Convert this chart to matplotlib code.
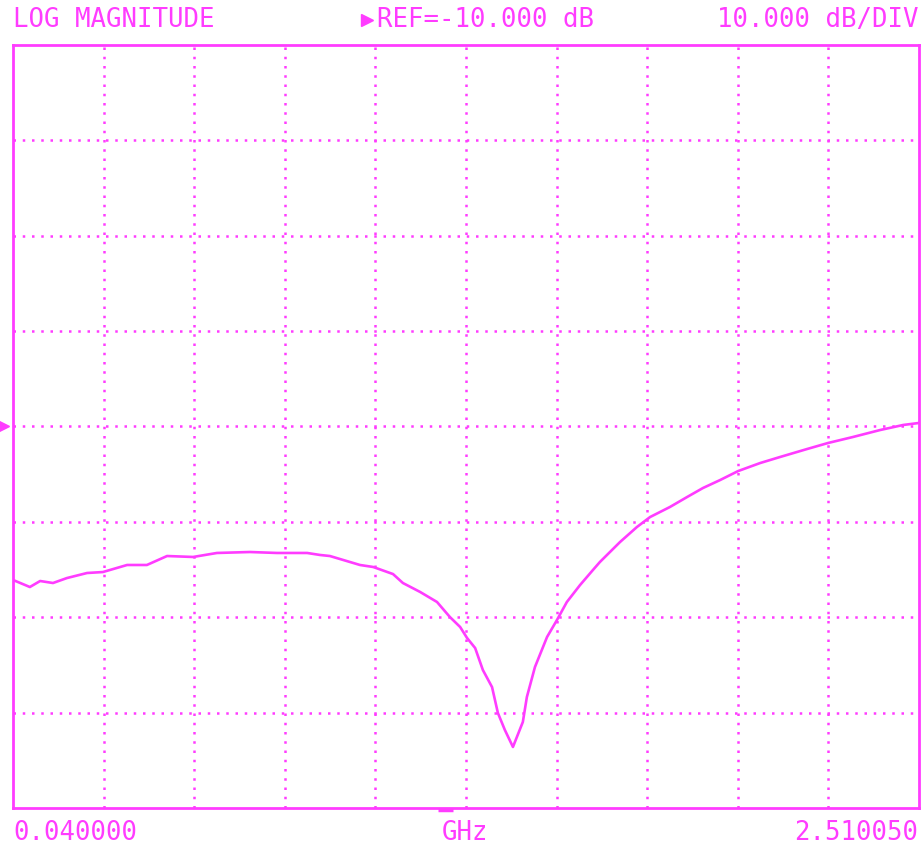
import numpy as np
import matplotlib
matplotlib.use("Agg")
import matplotlib.pyplot as plt
from matplotlib.lines import Line2D

# analyzer trace (GHz, dB)
freq_ghz = [0.040, 0.086, 0.114, 0.149, 0.187, 0.242, 0.285, 0.351, 0.405,
            0.460, 0.531, 0.596, 0.686, 0.760, 0.842, 0.877, 0.904, 0.986,
            1.022, 1.076, 1.103, 1.150, 1.196, 1.231, 1.259, 1.278, 1.300,
            1.321, 1.346, 1.362, 1.381, 1.403, 1.430, 1.441, 1.463, 1.496,
            1.523, 1.550, 1.586, 1.621, 1.640, 1.695, 1.741, 1.777, 1.831,
            1.878, 1.921, 1.968, 2.017, 2.077, 2.131, 2.205, 2.262, 2.330,
            2.404, 2.467, 2.510]
mag_db = [-26.09, -26.83, -26.20, -26.41, -25.89, -25.36, -25.26, -24.52,
          -24.52, -23.58, -23.68, -23.26, -23.16, -23.26, -23.26, -23.47,
          -23.58, -24.52, -24.73, -25.47, -26.41, -27.35, -28.40, -29.97,
          -31.02, -32.18, -33.23, -35.53, -37.32, -40.04, -41.82, -43.60,
          -40.98, -38.36, -35.22, -32.07, -30.29, -28.40, -26.62, -25.05,
          -24.21, -22.11, -20.54, -19.49, -18.44, -17.39, -16.45, -15.61,
          -14.67, -13.83, -13.20, -12.36, -11.73, -11.10, -10.37, -9.84,
          -9.63]

f_start = 0.040000
f_stop = 2.510050
ref_db = -10.0
db_per_div = 10.0
x_divs = 10
y_divs = 8

pink = '#ff3cff'
mono = ['DejaVu Sans Mono']

fig = plt.figure(figsize=(9.22, 8.55), dpi=100)
fig.patch.set_facecolor('white')
ax = fig.add_axes([13 / 922, 47 / 855, 906 / 922, 763 / 855])

y_top = ref_db + db_per_div * y_divs / 2
y_bot = ref_db - db_per_div * y_divs / 2
ax.set_xlim(f_start, f_stop)
ax.set_ylim(y_bot, y_top)

# dotted graticule
step = (f_stop - f_start) / x_divs
dots = (0, (1, 2.7))
for i in range(1, x_divs):
    ax.axvline(f_start + i * step, color=pink, lw=1.8,
               linestyle=dots, dash_capstyle='butt', zorder=1)
for i in range(1, y_divs):
    ax.axhline(y_bot + i * db_per_div, color=pink, lw=1.8,
               linestyle=dots, dash_capstyle='butt', zorder=1)

ax.plot(freq_ghz, mag_db, color=pink, lw=1.9, zorder=3)

ax.set_xticks([])
ax.set_yticks([])
for s in ax.spines.values():
    s.set_color(pink)
    s.set_linewidth(2.0)

# reference position marker on the left edge
ax.plot([-0.0095], [ref_db], marker='>', markersize=7, color=pink,
        transform=ax.get_yaxis_transform(), clip_on=False)
# small marker under the frame
ax.plot([0.469, 0.486], [-0.003, -0.003], color=pink, lw=2.5,
        transform=ax.transAxes, clip_on=False, solid_capstyle='butt')

# header
fig.text(13 / 922, 1 - 20 / 855, 'LOG MAGNITUDE', color=pink,
         family=mono, fontsize=18.5, va='center', ha='left')
fig.add_artist(Line2D([367 / 922], [1 - 20 / 855], marker='>', markersize=8,
                      color=pink, transform=fig.transFigure))
fig.text(377 / 922, 1 - 20 / 855, 'REF=-10.000 dB', color=pink,
         family=mono, fontsize=18.5, va='center', ha='left')
fig.text(918 / 922, 1 - 20 / 855, '10.000 dB/DIV', color=pink,
         family=mono, fontsize=18.5, va='center', ha='right')

# footer
fig.text(13 / 922, 1 - 833 / 855, '0.040000', color=pink,
         family=mono, fontsize=18.5, va='center', ha='left')
fig.text(465 / 922, 1 - 833 / 855, 'GHz', color=pink,
         family=mono, fontsize=18.5, va='center', ha='center')
fig.text(918 / 922, 1 - 833 / 855, '2.510050', color=pink,
         family=mono, fontsize=18.5, va='center', ha='right')

fig.savefig('out.png', dpi=100, facecolor='white')
